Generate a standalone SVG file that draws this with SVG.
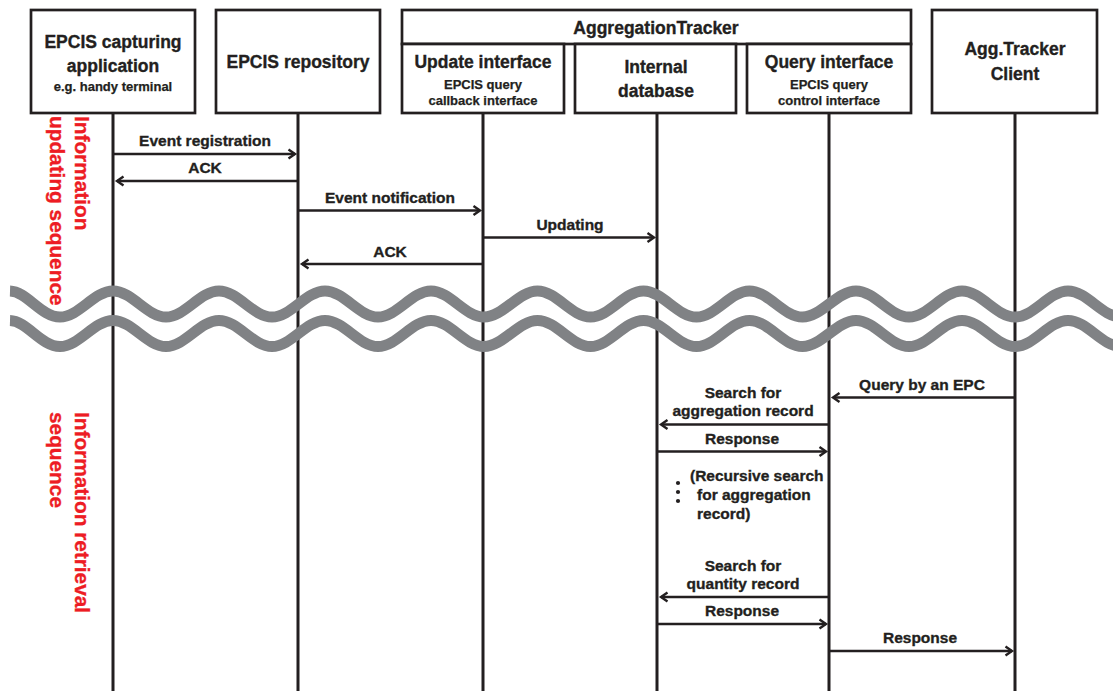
<svg xmlns="http://www.w3.org/2000/svg" xmlns:xlink="http://www.w3.org/1999/xlink" width="1113" height="691" viewBox="0 0 1113 691">
  <style>
    .box { fill: #ffffff; stroke: #231f20; stroke-width: 2.7; }
    .life { stroke: #231f20; stroke-width: 3; fill: none; }
    .msg { stroke: #231f20; stroke-width: 2.3; fill: none; marker-end: url(#ah); }
    text { font-family: "Liberation Sans", Arial, sans-serif; font-weight: bold; fill: #231f20; stroke: #231f20; stroke-width: 0.35; }
    .hd { font-size: 17.5px; text-anchor: middle; }
    .sub { font-size: 13px; text-anchor: middle; stroke-width: 0.25; }
    .lbl { font-size: 15.5px; text-anchor: middle; }
    .note { font-size: 15.5px; text-anchor: start; }
    .phase { font-size: 20.8px; fill: #ed1c24; stroke: #ed1c24; }
    .wave { fill: none; stroke: #808285; stroke-width: 11; }
  </style>
  <defs>
    <marker id="ah" markerUnits="userSpaceOnUse" orient="auto" overflow="visible" markerWidth="12" markerHeight="12" refX="0" refY="0">
      <path d="M-6.5,-4.5 L0,0 L-6.5,4.5" fill="none" stroke="#231f20" stroke-width="2.4"/>
    </marker>
    <path id="wavePath" d="M10,291 C27,291.5 41,317 60,317 S94,291 113,291 S147,317 166,317 S200,291 219,291 S253,317 272,317 S306,291 325,291 S359,317 378,317 S412,291 431,291 S465,317 484,317 S518.5,291 537.5,291 S571.5,317 590.5,317 S624.5,291 643.5,291 S677.5,317 696.5,317 S730.5,291 749.5,291 S783.5,317 802.5,317 S837,291 856,291 S890,317 909,317 S943,291 962,291 S996,317 1015,317 S1049,291 1068,291 S1102,317 1121,317"/>
  </defs>

  <rect width="1113" height="691" fill="#ffffff"/>

  <!-- lifelines -->
  <g id="lifelines">
    <line class="life" x1="113" y1="114" x2="113" y2="691"/>
    <line class="life" x1="298" y1="114" x2="298" y2="691"/>
    <line class="life" x1="483" y1="114" x2="483" y2="691"/>
    <line class="life" x1="657" y1="114" x2="657" y2="691"/>
    <line class="life" x1="829" y1="114" x2="829" y2="691"/>
    <line class="life" x1="1015" y1="114" x2="1015" y2="691"/>
  </g>

  <!-- participants -->
  <g id="capturing-app">
    <rect class="box" x="31" y="10" width="164" height="103"/>
    <text class="hd" x="113" y="48">EPCIS capturing</text>
    <text class="hd" x="113" y="72">application</text>
    <text class="sub" x="113" y="91">e.g. handy terminal</text>
  </g>
  <g id="repository">
    <rect class="box" x="216" y="10" width="164" height="103"/>
    <text class="hd" x="298" y="68">EPCIS repository</text>
  </g>
  <g id="aggregation-tracker">
    <rect class="box" x="402" y="10" width="509" height="34"/>
    <text class="hd" x="656" y="34">AggregationTracker</text>
  </g>
  <g id="update-interface">
    <rect class="box" x="402" y="44" width="162" height="69"/>
    <text class="hd" x="483" y="68">Update interface</text>
    <text class="sub" x="483" y="89">EPCIS query</text>
    <text class="sub" x="483" y="105">callback interface</text>
  </g>
  <g id="internal-database">
    <rect class="box" x="575" y="44" width="161" height="69"/>
    <text class="hd" x="656" y="73">Internal</text>
    <text class="hd" x="656" y="97">database</text>
  </g>
  <g id="query-interface">
    <rect class="box" x="747" y="44" width="164" height="69"/>
    <text class="hd" x="829" y="68">Query interface</text>
    <text class="sub" x="829" y="89">EPCIS query</text>
    <text class="sub" x="829" y="105">control interface</text>
  </g>
  <g id="tracker-client">
    <rect class="box" x="932" y="10" width="165" height="103"/>
    <text class="hd" x="1015" y="55">Agg.Tracker</text>
    <text class="hd" x="1015" y="80">Client</text>
  </g>

  <!-- messages -->
  <g id="connectors">
    <line class="msg" x1="113" y1="154" x2="295" y2="154"/>
    <line class="msg" x1="298" y1="181" x2="117" y2="181"/>
    <line class="msg" x1="298" y1="210.5" x2="480" y2="210.5"/>
    <line class="msg" x1="483" y1="237.5" x2="654" y2="237.5"/>
    <line class="msg" x1="483" y1="264" x2="302" y2="264"/>
    <line class="msg" x1="1015" y1="397.5" x2="833" y2="397.5"/>
    <line class="msg" x1="829" y1="424.5" x2="661" y2="424.5"/>
    <line class="msg" x1="657" y1="451.5" x2="826" y2="451.5"/>
    <line class="msg" x1="829" y1="597" x2="661" y2="597"/>
    <line class="msg" x1="657" y1="624" x2="826" y2="624"/>
    <line class="msg" x1="829" y1="651" x2="1012" y2="651"/>
  </g>

  <g id="message-labels">
    <text class="lbl" x="205" y="146">Event registration</text>
    <text class="lbl" x="205" y="173">ACK</text>
    <text class="lbl" x="390" y="203">Event notification</text>
    <text class="lbl" x="570" y="230">Updating</text>
    <text class="lbl" x="390" y="257">ACK</text>
    <text class="lbl" x="922" y="390">Query by an EPC</text>
    <text class="lbl" x="743" y="398">Search for</text>
    <text class="lbl" x="743" y="416">aggregation record</text>
    <text class="lbl" x="742" y="444">Response</text>
    <text class="note" x="690" y="481">(Recursive search</text>
    <text class="note" x="697" y="500">for aggregation</text>
    <text class="note" x="697" y="519">record)</text>
    <text class="lbl" x="743" y="571">Search for</text>
    <text class="lbl" x="743" y="589">quantity record</text>
    <text class="lbl" x="742" y="616">Response</text>
    <text class="lbl" x="920" y="643">Response</text>
  </g>

  <!-- vertical ellipsis -->
  <g id="ellipsis" fill="#231f20">
    <circle cx="678" cy="483" r="2.1"/>
    <circle cx="678" cy="492" r="2.1"/>
    <circle cx="678" cy="501" r="2.1"/>
  </g>

  <!-- time break -->
  <g id="time-break">
    <use xlink:href="#wavePath" class="wave"/>
    <use xlink:href="#wavePath" class="wave" transform="translate(0,29.5)"/>
  </g>

  <!-- phase captions -->
  <g id="phase-labels">
    <text class="phase" transform="translate(75,116) rotate(90)">Information</text>
    <text class="phase" transform="translate(50,116) rotate(90)">updating sequence</text>
    <text class="phase" transform="translate(75,412) rotate(90)">Information retrieval</text>
    <text class="phase" transform="translate(50,412) rotate(90)">sequence</text>
  </g>
</svg>
